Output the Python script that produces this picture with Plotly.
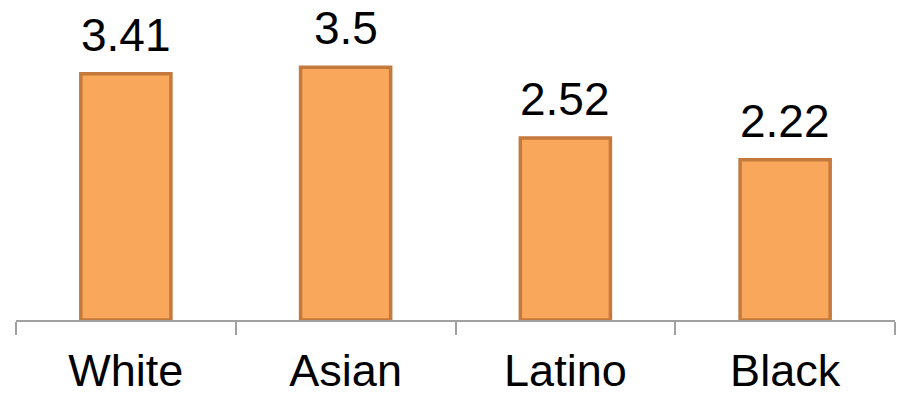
import plotly.graph_objects as go

# Average values by group
groups = ["White", "Asian", "Latino", "Black"]
values = [3.41, 3.5, 2.52, 2.22]
value_labels = ["3.41", "3.5", "2.52", "2.22"]

FONT = "Liberation Sans, Arial, sans-serif"

fig = go.Figure(
    go.Bar(
        x=groups,
        y=values,
        width=0.41,
        marker=dict(color="#F9A75A", line=dict(color="#C47A3C", width=3.5)),
        hoverinfo="skip",
    )
)

# Value labels placed above each bar
for g, v, lab in zip(groups, values, value_labels):
    fig.add_annotation(
        x=g,
        y=v,
        text=lab,
        showarrow=False,
        yanchor="bottom",
        yshift=11,
        font=dict(family=FONT, size=46, color="black"),
    )

fig.update_layout(
    width=899,
    height=400,
    margin=dict(l=16, r=4, t=0, b=80, autoexpand=False),
    paper_bgcolor="white",
    plot_bgcolor="white",
    showlegend=False,
)

fig.update_xaxes(
    type="category",
    automargin=False,
    showline=True,
    linecolor="#A0A0A0",
    linewidth=2,
    ticks="outside",
    tickson="boundaries",
    ticklen=13,
    tickwidth=2,
    tickcolor="#A0A0A0",
    ticklabelstandoff=10,
    tickfont=dict(family=FONT, size=45, color="black"),
    showgrid=False,
    zeroline=False,
)

fig.update_yaxes(
    range=[0, 4.43],
    visible=False,
    showgrid=False,
    zeroline=False,
)

fig.write_html("out.html")
